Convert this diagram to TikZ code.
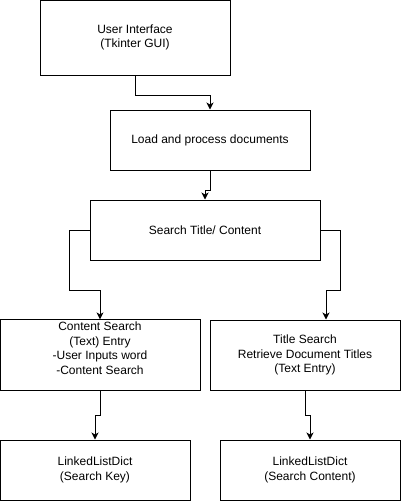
\documentclass[tikz,border=0pt]{standalone}
\usepackage{fontspec}
\setmainfont{Liberation Sans}
\usetikzlibrary{arrows.meta,positioning}
\tikzstyle{arrow} = [line width=1pt,-{Stealth[length=7pt,width=7pt,inset=2pt]},color=black]
\tikzstyle{process} = [rectangle, draw=black, line width=1pt, align=center, text centered, inner sep=2pt, font=\fontsize{12}{14.5}\selectfont]

\begin{document}
\begin{tikzpicture}[x=1pt,y=1pt]
\useasboundingbox (0,0) rectangle (401,-501);
% Top of the flow
\node (gui) [process, minimum width=190pt, minimum height=75pt] at (135,-37.5) {User Interface\\(Tkinter GUI)};
\node (load) [process, minimum width=200pt, minimum height=60pt] at (210,-140) {Load and process documents};
\node (search) [process, minimum width=230pt, minimum height=60pt] at (205,-230) {Search Title/ Content};

% Two search branches
\node (content) [process, minimum width=200pt, minimum height=70pt, text depth=14pt] at (100,-355) {Content Search\\(Text) Entry\\-User Inputs word\\-Content Search};
\node (title) [process, minimum width=190pt, minimum height=70pt] at (305,-355) {Title Search\\Retrieve Document Titles\\(Text Entry)};
\node (keydict) [process, minimum width=190pt, minimum height=60pt] at (95,-470) {LinkedListDict\\(Search Key)};
\node (contentdict) [process, minimum width=180pt, minimum height=60pt] at (310,-470) {LinkedListDict\\(Search Content)};

% Connectors
\draw[arrow] (gui.south) -- ++(0,-20) -| (load.north);
\draw[arrow] (load.south) -- ++(0,-20) -| (search.north);
\draw[arrow] (search.west) -| ++(-20,-60) -| (content.north);
\draw[arrow] (search.east) -| ++(20,-60) -| ([xshift=21pt]title.north);
\draw[arrow] (content.south) -- ++(0,-25) -| (keydict.north);
\draw[arrow] (title.south) -- ++(0,-25) -| (contentdict.north);
\end{tikzpicture}
\end{document}
